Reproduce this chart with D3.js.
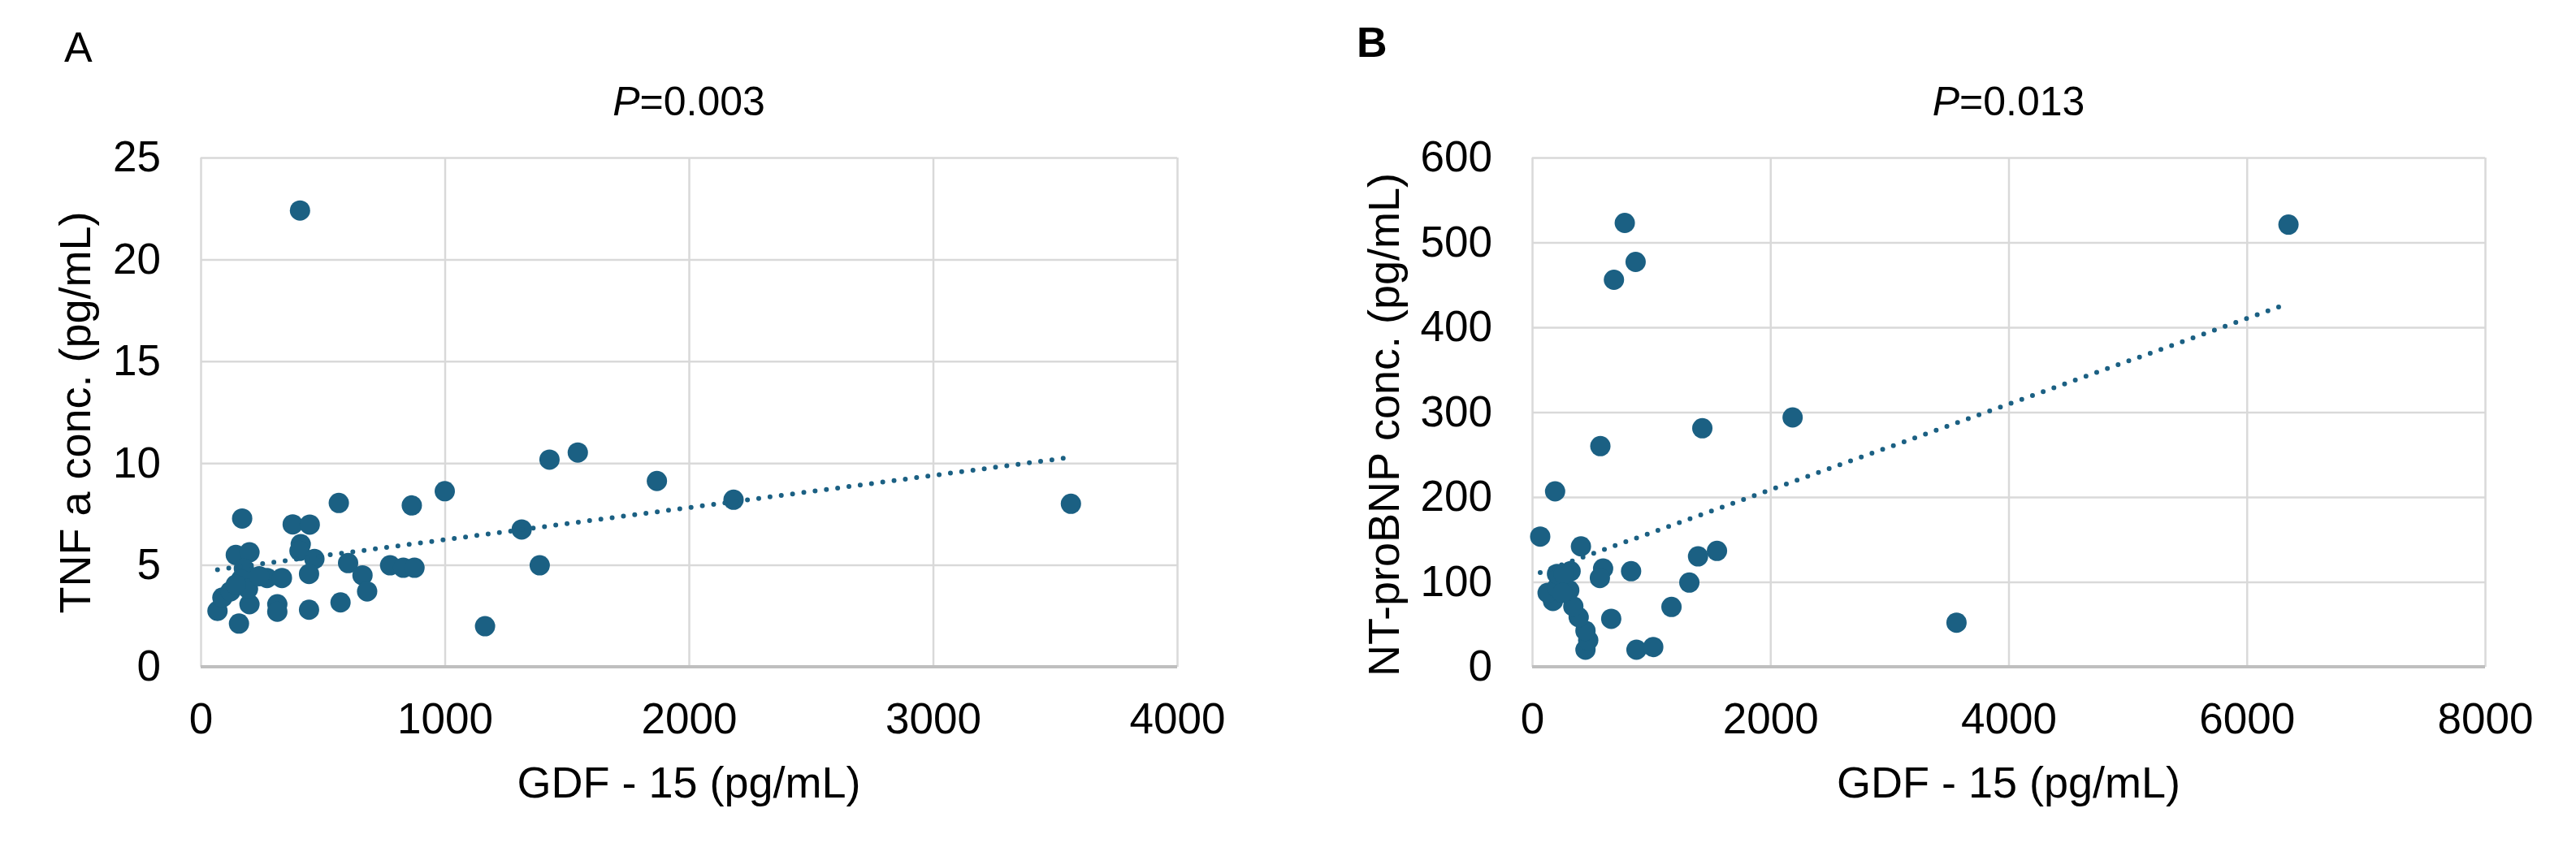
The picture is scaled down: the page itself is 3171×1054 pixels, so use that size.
<!DOCTYPE html>
<html>
<head>
<meta charset="utf-8">
<script src="https://cdn.jsdelivr.net/npm/d3@7"></script>
<style>
  body { margin: 0; background: #fff; }
  text { font-family: "Liberation Sans", Arial, sans-serif; fill: #000; }
</style>
</head>
<body>
<svg id="chart" width="3171" height="1054"></svg>
<script>
// panel A: GDF-15 vs TNF a
const gdfA = [407, 170, 566, 865, 1000, 1429, 1545, 377, 447, 410, 405, 466, 444, 604, 663, 682,
  776, 830, 876, 573, 444, 314, 314, 157, 69, 89, 122, 200, 144, 200, 177, 166, 194, 272, 333,
  144, 1165, 1315, 1389, 1869, 2183, 3565, 240];
const tnfA = [22.4, 7.28, 8.04, 7.92, 8.62, 10.17, 10.52, 6.99, 6.98, 6.02, 5.69, 5.29, 4.56, 5.09,
  4.49, 3.70, 4.98, 4.86, 4.86, 3.16, 2.80, 3.07, 2.70, 2.12, 2.74, 3.40, 3.70, 3.07, 5.49, 5.62,
  4.82, 4.29, 3.83, 4.36, 4.36, 4.03, 1.99, 6.74, 4.98, 9.12, 8.20, 8.00, 4.45];

// panel B: GDF-15 vs NT-proBNP
const gdfB = [193, 68, 410, 596, 569, 831, 1393, 1552, 1320, 1170, 664, 876, 1017, 448, 471, 448,
  391, 346, 312, 175, 130, 209, 209, 323, 266, 255, 778, 869, 687, 573, 1429, 2187, 6350, 3563];
const ntB = [206.7, 153.4, 141.9, 115.8, 104.6, 112.6, 130.1, 136.5, 99.2, 70.5, 56.5, 20.1, 23.3,
  20.1, 31.3, 42.4, 58.4, 71.1, 90.2, 77.5, 87.1, 93.5, 109.4, 112.6, 109.4, 87.1, 523, 477, 456,
  260, 281, 293.8, 521, 52];

const ticksAx = [0, 1000, 2000, 3000, 4000];
const ticksAy = [0, 5, 10, 15, 20, 25];
const ticksBx = [0, 2000, 4000, 6000, 8000];
const ticksBy = [0, 100, 200, 300, 400, 500, 600];

const dotColor = "#1b6083";
const svg = d3.select("#chart");
svg.append("rect").attr("width", 3171).attr("height", 1054).attr("fill", "#fff");

function panel(opt) {
  const w = opt.right - opt.left, h = opt.bottom - opt.top;
  const g = svg.append("g").attr("transform", `translate(${opt.left},${opt.top})`);

  const x = d3.scaleLinear().domain([0, d3.max(opt.xTicks)]).range([0, w]);
  const y = d3.scaleLinear().domain([0, d3.max(opt.yTicks)]).range([h, 0]);

  // horizontal grid + y labels
  const ya = g.append("g")
    .call(d3.axisLeft(y).tickValues(opt.yTicks).tickFormat(d3.format("d")).tickSize(-w).tickPadding(49));
  // vertical grid + x labels
  const xa = g.append("g").attr("transform", `translate(0,${h})`)
    .call(d3.axisBottom(x).tickValues(opt.xTicks).tickFormat(d3.format("d")).tickSize(-h).tickPadding(44));
  [ya, xa].forEach(a => {
    a.select(".domain").remove();
    a.selectAll("line").attr("stroke", "#d9d9d9").attr("stroke-width", 2.5);
    a.selectAll("text").attr("font-size", 53).style("font-family", "Liberation Sans, Arial, sans-serif");
  });

  // bottom axis line
  g.append("line").attr("x1", 0).attr("x2", w).attr("y1", h).attr("y2", h)
    .attr("stroke", "#bfbfbf").attr("stroke-width", 4);

  const pts = opt.xs.map((v, i) => [v, opt.ys[i]]);
  g.append("g").selectAll("circle").data(pts).enter().append("circle")
    .attr("cx", d => x(d[0])).attr("cy", d => y(d[1])).attr("r", 12.5)
    .attr("fill", dotColor);

  // linear trend line (least squares)
  const mx = d3.mean(opt.xs), my = d3.mean(opt.ys);
  const slope = d3.sum(pts, d => (d[0] - mx) * (d[1] - my)) / d3.sum(pts, d => (d[0] - mx) ** 2);
  const icpt = my - slope * mx;
  const ext = d3.extent(opt.xs);
  g.append("path")
    .datum(ext.map(v => [v, icpt + slope * v]))
    .attr("fill", "none").attr("stroke", dotColor).attr("stroke-width", 6)
    .attr("stroke-linecap", "round").attr("stroke-dasharray", "0 14")
    .attr("d", d3.line().x(d => x(d[0])).y(d => y(d[1])));

  // title
  const t = svg.append("text").attr("x", (opt.left + opt.right) / 2).attr("y", 142)
    .attr("text-anchor", "middle").attr("font-size", 50);
  t.append("tspan").attr("font-style", "italic").text("P");
  t.append("tspan").text("=" + opt.p);

  // axis titles
  svg.append("text").attr("x", (opt.left + opt.right) / 2).attr("y", 982)
    .attr("text-anchor", "middle").attr("font-size", 54).text("GDF - 15 (pg/mL)");
  svg.append("text")
    .attr("transform", `translate(${opt.yTitleX},${opt.yTitleY}) rotate(-90)`)
    .attr("text-anchor", "middle").attr("font-size", 54).text(opt.yTitle);

  svg.append("text").attr("x", opt.labelX).attr("y", opt.labelY)
    .attr("font-size", 52).attr("font-weight", opt.labelBold ? "bold" : "normal").text(opt.label);
}

panel({
  left: 247, right: 1449, top: 194, bottom: 821,
  xTicks: ticksAx, yTicks: ticksAy, xs: gdfA, ys: tnfA,
  p: "0.003", yTitle: "TNF a conc. (pg/mL)", yTitleX: 111, yTitleY: 508,
  label: "A", labelX: 79, labelY: 76, labelBold: false
});
panel({
  left: 1886, right: 3059, top: 194, bottom: 821,
  xTicks: ticksBx, yTicks: ticksBy, xs: gdfB, ys: ntB,
  p: "0.013", yTitle: "NT-proBNP conc. (pg/mL)", yTitleX: 1722, yTitleY: 523,
  label: "B", labelX: 1670, labelY: 70, labelBold: true
});
</script>
</body>
</html>
